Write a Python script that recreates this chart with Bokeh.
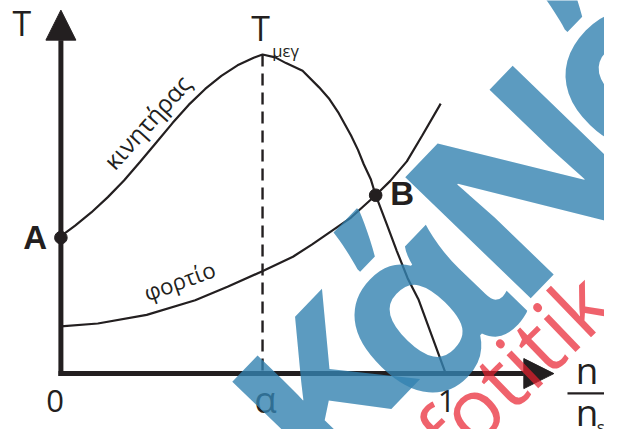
import math
from bokeh.plotting import figure
from bokeh.models import Range1d, Arrow, NormalHead, Label
from bokeh.embed import file_html
from bokeh.resources import INLINE

# ---------------- data ----------------
# motor (κινητήρας) torque curve: x = n/ns, T relative to T_max
motor_x = [0.000, 0.008, 0.037, 0.079, 0.122, 0.164, 0.206, 0.248, 0.290, 0.332,
           0.375, 0.417, 0.459, 0.501, 0.524, 0.557, 0.585, 0.628, 0.671, 0.696,
           0.722, 0.754, 0.772, 0.787, 0.805, 0.818, 0.846, 0.873, 0.901, 0.929,
           0.965, 1.000]
motor_T = [0.426, 0.438, 0.464, 0.505, 0.553, 0.605, 0.664, 0.724, 0.785, 0.842,
           0.892, 0.933, 0.966, 0.990, 1.000, 0.991, 0.973, 0.949, 0.897, 0.863,
           0.816, 0.746, 0.701, 0.656, 0.610, 0.559, 0.471, 0.384, 0.299, 0.233,
           0.115, 0.000]
# load (φορτίο) curve
load_x = [0.000, 0.096, 0.223, 0.349, 0.433, 0.522, 0.603, 0.653, 0.754, 0.818,
          0.856, 0.899, 0.939, 0.987]
load_T = [0.148, 0.157, 0.184, 0.230, 0.272, 0.320, 0.366, 0.405, 0.489, 0.559,
          0.604, 0.665, 0.746, 0.846]

alpha_x = 0.524          # speed of maximum torque
T_max = 1.0
point_x = [0.0, 0.818]   # A and B
point_T = [0.426, 0.559]
point_names = ["A", "B"]
tick_x = [0.0, alpha_x, 1.0]
tick_labels = ["0", "α", "1"]

# ---------------- layout helpers ----------------
W, H = 604, 429
REF_W, REF_H = 620.0, 445.0
SX, SY = W / REF_W, H / REF_H
FS = (SX + SY) / 2.0
UX, UT = 395.0, 331.0            # reference pixels per data unit
OX, OY = 62.0, 387.0             # reference pixel of the origin
K = 0.42                         # baseline compensation (em)


def dx(px):
    return (px - OX) / UX


def dy(py):
    return (OY - py) / UT


INK = "#231f20"
FONT = "Open Sans"

p = figure(width=W, height=H,
           x_range=Range1d(dx(0), dx(REF_W)),
           y_range=Range1d(dy(REF_H), dy(0)),
           x_axis_location=None, y_axis_location=None,
           output_backend="svg", toolbar_location=None,
           min_border=0, outline_line_color=None,
           background_fill_color="white", border_fill_color="white")
p.grid.visible = False


def label(text, px, py, size, align="center", angle=0.0, font=FONT,
          style="normal", color=INK, alpha=1.0):
    s = size * FS
    a = math.radians(angle)
    up = K * s
    x = dx(px) + (-math.sin(a) * up) / (UX * SX)
    y = dy(py) + (math.cos(a) * up) / (UT * SY)
    p.add_layout(Label(x=x, y=y, text=text, angle=a, text_align=align,
                       text_baseline="alphabetic", text_font=font,
                       text_font_style=style, text_font_size=f"{s:.1f}px",
                       text_color=color, text_alpha=alpha))


# curves
p.line(motor_x, motor_T, line_width=2.2, line_color=INK)
p.line(load_x, load_T, line_width=2.2, line_color=INK)
p.line([alpha_x, alpha_x], [T_max, 0.0], line_width=2.4, line_color=INK,
       line_dash="12 7")

# axes with arrow heads
head = int(round(31 * FS))
p.add_layout(Arrow(end=NormalHead(size=head, fill_color=INK, line_color=INK),
                   x_start=0.0, y_start=-2.5 / UT, x_end=0.0, y_end=dy(10),
                   line_width=5, line_color=INK))
p.add_layout(Arrow(end=NormalHead(size=head, fill_color=INK, line_color=INK),
                   x_start=-2.5 / UX, y_start=0.0, x_end=dx(568), y_end=0.0,
                   line_width=5, line_color=INK))

# points A, B
p.scatter(point_x, point_T, size=13 * FS, color=INK)

# tick labels
tick_sizes = [32, 38, 32]
tick_shift = [-6, 3, 1]
for tx, tl, ts, sh in zip(tick_x, tick_labels, tick_sizes, tick_shift):
    label(tl, OX + UX * tx + sh, 429, ts)

# axis titles
label("T", 22, 38, 35)
label("n", 602, 399, 38)
p.segment(x0=[dx(582)], y0=[dy(407.5)], x1=[dx(630)], y1=[dy(407.5)],
          line_width=2.2, line_color=INK)
label("n", 602, 443, 38)
label("s", 612, 450, 18, align="left")

# T_μεγ
label("T", OX + UX * alpha_x - 2, 43, 35)
label("μεγ", 279, 59, 17, align="left")

# point names
label(point_names[0], OX + UX * point_x[0] - 26.5, OY - UT * point_T[0] + 14, 34,
      font="Liberation Sans", style="bold")
label(point_names[1], OX + UX * point_x[1] + 15, OY - UT * point_T[1] + 13, 34,
      align="left", font="Liberation Sans", style="bold")

# curve names
label("κινητήρας", 158, 133, 25, angle=48)
label("φορτίο", 187, 300, 23, angle=20)

# watermark (drawn on top)
WM_E, WM_ANG = 252.0, 46.0
wm_letters = ["κ", "ά", "Ν", "ό"]
wm_centres = [(332, 406), (444, 334), (540, 194), (656, 86)]
wm_mid = [0.28, 0.28, 0.36, 0.28]
ta = math.radians(WM_ANG)
for ch, (cx, cy), m in zip(wm_letters, wm_centres, wm_mid):
    bx = cx + m * WM_E * math.sin(ta)
    by = cy + m * WM_E * math.cos(ta)
    label(ch, bx, by, WM_E, angle=WM_ANG, style="bold",
          color="#3382b0", alpha=0.8)
label("fotitik", 467, 489, 88, align="left", angle=44,
      color="#e8202e", alpha=0.7)

open("out.html", "w").write(file_html(p, INLINE))
